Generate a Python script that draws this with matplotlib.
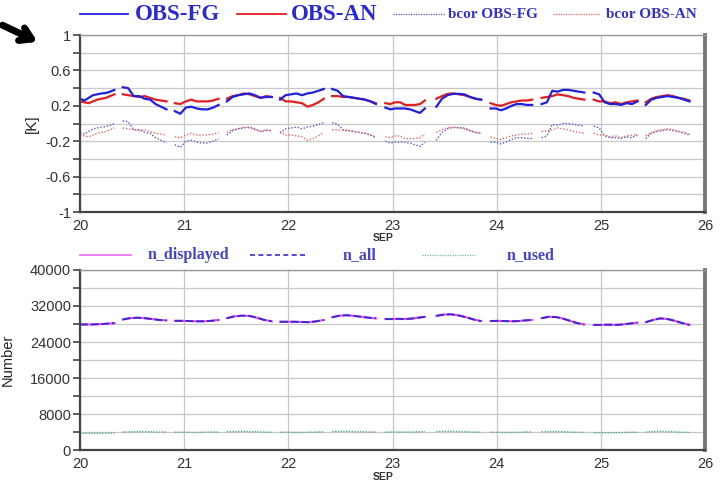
import numpy as np
import matplotlib
matplotlib.use("Agg")
import matplotlib.pyplot as plt

plt.rcParams['font.family'] = ['Liberation Sans', 'DejaVu Sans']

# assimilation windows (day of September)
seg_start = [20.00, 20.41, 20.91, 21.41, 21.92, 22.42, 22.93, 23.42, 23.94, 24.43, 24.93, 25.43]
seg_end = [20.33, 20.83, 21.33, 21.84, 22.34, 22.84, 23.31, 23.85, 24.34, 24.84, 25.35, 25.85]

obs_fg = [
    [0.28, 0.26, 0.29, 0.32, 0.33, 0.34, 0.345, 0.36, 0.38],
    [0.41, 0.40, 0.31, 0.31, 0.28, 0.27, 0.22, 0.19, 0.16],
    [0.14, 0.11, 0.18, 0.19, 0.17, 0.16, 0.16, 0.18, 0.21],
    [0.25, 0.30, 0.32, 0.33, 0.34, 0.32, 0.29, 0.30, 0.30],
    [0.27, 0.32, 0.33, 0.34, 0.32, 0.34, 0.35, 0.37, 0.39],
    [0.39, 0.37, 0.31, 0.30, 0.29, 0.28, 0.27, 0.25, 0.22],
    [0.18, 0.16, 0.17, 0.17, 0.17, 0.16, 0.14, 0.12, 0.17],
    [0.19, 0.28, 0.32, 0.335, 0.335, 0.33, 0.30, 0.28, 0.27],
    [0.17, 0.17, 0.15, 0.17, 0.20, 0.22, 0.22, 0.21, 0.21],
    [0.22, 0.24, 0.37, 0.36, 0.38, 0.38, 0.37, 0.36, 0.35],
    [0.35, 0.33, 0.24, 0.22, 0.22, 0.21, 0.23, 0.22, 0.25],
    [0.21, 0.27, 0.29, 0.30, 0.31, 0.30, 0.29, 0.27, 0.25],
]
obs_an = [
    [0.25, 0.24, 0.23, 0.25, 0.27, 0.28, 0.29, 0.31, 0.33],
    [0.33, 0.32, 0.31, 0.30, 0.31, 0.29, 0.27, 0.26, 0.25],
    [0.23, 0.22, 0.25, 0.27, 0.25, 0.25, 0.25, 0.26, 0.28],
    [0.28, 0.31, 0.32, 0.34, 0.33, 0.31, 0.29, 0.31, 0.30],
    [0.29, 0.25, 0.25, 0.24, 0.23, 0.19, 0.21, 0.24, 0.28],
    [0.31, 0.31, 0.30, 0.30, 0.29, 0.28, 0.27, 0.25, 0.23],
    [0.23, 0.22, 0.24, 0.24, 0.21, 0.21, 0.21, 0.22, 0.26],
    [0.28, 0.31, 0.335, 0.34, 0.33, 0.32, 0.30, 0.28, 0.27],
    [0.23, 0.21, 0.20, 0.22, 0.24, 0.25, 0.26, 0.26, 0.27],
    [0.29, 0.30, 0.31, 0.33, 0.32, 0.31, 0.29, 0.28, 0.27],
    [0.27, 0.25, 0.25, 0.23, 0.24, 0.22, 0.24, 0.25, 0.26],
    [0.24, 0.28, 0.30, 0.31, 0.32, 0.31, 0.29, 0.28, 0.26],
]
bcor_fg = [
    [-0.10, -0.12, -0.09, -0.06, -0.05, -0.04, -0.035, -0.02, 0.00],
    [0.03, 0.02, -0.07, -0.07, -0.10, -0.11, -0.16, -0.19, -0.22],
    [-0.24, -0.27, -0.20, -0.19, -0.21, -0.22, -0.22, -0.20, -0.17],
    [-0.13, -0.08, -0.06, -0.05, -0.04, -0.06, -0.09, -0.08, -0.08],
    [-0.11, -0.06, -0.05, -0.04, -0.06, -0.04, -0.03, -0.01, 0.01],
    [0.01, -0.01, -0.07, -0.08, -0.09, -0.10, -0.11, -0.13, -0.16],
    [-0.20, -0.22, -0.21, -0.21, -0.21, -0.22, -0.24, -0.26, -0.21],
    [-0.19, -0.10, -0.06, -0.045, -0.045, -0.05, -0.08, -0.10, -0.11],
    [-0.21, -0.21, -0.23, -0.21, -0.18, -0.16, -0.16, -0.17, -0.17],
    [-0.16, -0.14, -0.01, -0.02, 0.00, 0.00, -0.01, -0.02, -0.03],
    [-0.03, -0.05, -0.14, -0.16, -0.16, -0.17, -0.15, -0.16, -0.13],
    [-0.17, -0.11, -0.09, -0.08, -0.07, -0.08, -0.09, -0.11, -0.13],
]
bcor_an = [
    [-0.13, -0.14, -0.15, -0.13, -0.11, -0.10, -0.09, -0.07, -0.05],
    [-0.05, -0.06, -0.07, -0.08, -0.07, -0.09, -0.11, -0.12, -0.13],
    [-0.15, -0.16, -0.13, -0.11, -0.13, -0.13, -0.13, -0.12, -0.10],
    [-0.10, -0.07, -0.06, -0.04, -0.05, -0.07, -0.09, -0.07, -0.08],
    [-0.09, -0.13, -0.13, -0.14, -0.15, -0.19, -0.17, -0.14, -0.10],
    [-0.07, -0.07, -0.08, -0.08, -0.09, -0.10, -0.11, -0.13, -0.15],
    [-0.15, -0.16, -0.14, -0.14, -0.17, -0.17, -0.17, -0.16, -0.12],
    [-0.10, -0.07, -0.045, -0.04, -0.05, -0.06, -0.08, -0.10, -0.11],
    [-0.15, -0.17, -0.18, -0.16, -0.14, -0.13, -0.12, -0.12, -0.11],
    [-0.09, -0.08, -0.07, -0.05, -0.06, -0.07, -0.09, -0.10, -0.11],
    [-0.11, -0.13, -0.13, -0.15, -0.14, -0.16, -0.14, -0.13, -0.12],
    [-0.14, -0.10, -0.08, -0.07, -0.06, -0.07, -0.09, -0.10, -0.12],
]

n_all = [
    [27900, 27900, 27900, 27950, 28000, 28100, 28200],
    [29000, 29300, 29400, 29300, 29100, 28900, 28800],
    [28700, 28700, 28650, 28600, 28600, 28700, 28900],
    [29300, 29700, 29850, 29800, 29400, 28900, 28600],
    [28500, 28500, 28500, 28450, 28400, 28600, 28900],
    [29500, 29850, 29950, 29800, 29600, 29400, 29250],
    [29100, 29100, 29150, 29100, 29200, 29400, 29600],
    [29800, 30100, 30150, 29900, 29500, 29000, 28650],
    [28650, 28700, 28650, 28600, 28650, 28800, 28900],
    [29300, 29600, 29550, 29200, 28700, 28200, 27900],
    [27800, 27800, 27850, 27800, 27900, 28100, 28300],
    [28400, 28900, 29250, 29100, 28700, 28200, 27800],
]
n_displayed = [list(s) for s in n_all]  # identical to n_all in the picture
n_used = [
    [3700, 3700, 3700, 3700, 3700, 3750, 3800],
    [4000, 4050, 4100, 4100, 4050, 4000, 4000],
    [3950, 3950, 3950, 3900, 3950, 4000, 4000],
    [4050, 4100, 4150, 4100, 4050, 4000, 3950],
    [3950, 3950, 3900, 3900, 3950, 4000, 4050],
    [4100, 4150, 4150, 4100, 4050, 4000, 4000],
    [4000, 4000, 4000, 4000, 4000, 4050, 4100],
    [4100, 4150, 4150, 4100, 4050, 4000, 3950],
    [3950, 3950, 3900, 3900, 3950, 4000, 4000],
    [4050, 4100, 4100, 4050, 4000, 3950, 3900],
    [3850, 3850, 3850, 3850, 3900, 3950, 3950],
    [4000, 4100, 4150, 4100, 4050, 3950, 3900],
]

day_ticks = [20, 21, 22, 23, 24, 25, 26]
k_ticks = [-1, -0.6, -0.2, 0.2, 0.6, 1]
k_labels = ["-1", "-0.6", "-0.2", "0.2", "0.6", "1"]
n_ticks = [0, 8000, 16000, 24000, 32000, 40000]


def join(segs):
    xs, ys = [], []
    for s0, s1, v in zip(seg_start, seg_end, segs):
        xs += list(np.linspace(s0, s1, len(v))) + [np.nan]
        ys += list(v) + [np.nan]
    return np.array(xs), np.array(ys)


fig = plt.figure(figsize=(7.21, 4.83), dpi=100)
ax1 = fig.add_axes([0.111, 0.561, 0.867, 0.3665])
ax2 = fig.add_axes([0.111, 0.0683, 0.867, 0.3727])


def style(ax):
    ax.set_xlim(20, 26)
    ax.set_xticks(day_ticks)
    ax.set_xticklabels([str(d) for d in day_ticks])
    ax.grid(True, which='both', color='#c8c8c8', lw=0.9)
    ax.set_axisbelow(True)
    ax.tick_params(axis='x', length=0, pad=5, labelsize=10.5, labelcolor='#333333')
    ax.tick_params(axis='y', which='both', length=5, width=1.2, color='#444444',
                   labelsize=10.5, labelcolor='#333333', pad=1.5)
    ax.spines['left'].set_color('#444444')
    ax.spines['left'].set_linewidth(1.6)
    ax.spines['bottom'].set_color('#444444')
    ax.spines['bottom'].set_linewidth(1.6)
    ax.spines['top'].set_color('#999999')
    ax.spines['top'].set_linewidth(1.0)
    ax.spines['right'].set_color('#777777')
    ax.spines['right'].set_linewidth(2.8)
    ax.text(0.485, -0.148, "SEP", transform=ax.transAxes, fontsize=7.5,
            color='#333333', fontweight='bold', ha='center', va='center')


# top panel
x, y = join(bcor_fg)
ax1.plot(x, y, color='#5555dd', lw=1.0, ls=(0, (1, 1.3)))
x, y = join(bcor_an)
ax1.plot(x, y, color='#ee6666', lw=1.0, ls=(0, (1, 1.3)))
x, y = join(obs_an)
ax1.plot(x, y, color='#e02020', lw=1.6)
x, y = join(obs_fg)
ax1.plot(x, y, color='#2020dd', lw=1.6)
ax1.set_ylim(-1, 1)
ax1.set_yticks(k_ticks)
ax1.set_yticklabels(k_labels)
ax1.set_yticks([-0.8, -0.4, 0, 0.4, 0.8], minor=True)
style(ax1)
ax1.set_ylabel("[K]", fontsize=11, color='#222222')
ax1.yaxis.set_label_coords(-0.066, 0.5)

# bottom panel
x, y = join(n_used)
ax2.plot(x, y, color='#55aa88', lw=1.0, ls=(0, (1, 1)))
x, y = join(n_displayed)
ax2.plot(x, y, color='#ee44ee', lw=1.5)
x, y = join(n_all)
ax2.plot(x, y, color='#3a2ad0', lw=1.4, ls=(0, (4, 1.5)))
ax2.set_ylim(0, 40000)
ax2.set_yticks(n_ticks)
ax2.set_yticks(np.arange(4000, 40000, 8000), minor=True)
style(ax2)
ax2.set_ylabel("Number", fontsize=10.5, color='#222222')
ax2.yaxis.set_label_coords(-0.104, 0.5)

# top legend
ty = 1 - 14 / 483
W = 721.0
fig.add_artist(plt.Line2D([80 / W, 128 / W], [ty, ty], color='#2020dd', lw=1.3))
fig.text(135 / W, ty, "OBS-FG", color='#2a2ad4', family='Liberation Serif',
         fontsize=16.5, fontweight='bold', va='center')
fig.add_artist(plt.Line2D([237 / W, 286 / W], [ty, ty], color='#e02020', lw=1.3))
fig.text(291 / W, ty, "OBS-AN", color='#2a2ad4', family='Liberation Serif',
         fontsize=16.5, fontweight='bold', va='center')
fig.add_artist(plt.Line2D([393 / W, 445 / W], [ty, ty], color='#5555dd', lw=0.9, ls=(0, (1, 1))))
fig.text(448 / W, ty, "bcor OBS-FG", color='#3333cc', family='Liberation Serif',
         fontsize=11, fontweight='bold', va='center')
fig.add_artist(plt.Line2D([553 / W, 600 / W], [ty, ty], color='#ee6666', lw=0.9, ls=(0, (1, 1))))
fig.text(606 / W, ty, "bcor OBS-AN", color='#3333cc', family='Liberation Serif',
         fontsize=11, fontweight='bold', va='center')

# bottom legend
by = 1 - 255 / 483
fig.add_artist(plt.Line2D([80 / W, 131 / W], [by, by], color='#ee66ee', lw=1.2))
fig.text(148 / W, by, "n_displayed", color='#4444cc', family='Liberation Serif',
         fontsize=11.5, fontweight='bold', va='center')
fig.add_artist(plt.Line2D([250 / W, 305 / W], [by, by], color='#3a2ad0', lw=1.2, ls=(0, (3, 2))))
fig.text(343 / W, by, "n_all", color='#4444cc', family='Liberation Serif',
         fontsize=11.5, fontweight='bold', va='center')
fig.add_artist(plt.Line2D([422 / W, 475 / W], [by, by], color='#77bbaa', lw=0.9, ls=(0, (1, 1))))
fig.text(507 / W, by, "n_used", color='#4444cc', family='Liberation Serif',
         fontsize=11.5, fontweight='bold', va='center')

# black arrow in the corner
plt.annotate('', xy=(40 / W, 1 - 43 / 483), xytext=(0 / W, 1 - 24 / 483),
             xycoords='figure fraction', textcoords='figure fraction',
             arrowprops=dict(arrowstyle='->,head_length=0.8,head_width=0.5',
                             lw=5, color='black'))

fig.savefig("out.png", dpi=100)
